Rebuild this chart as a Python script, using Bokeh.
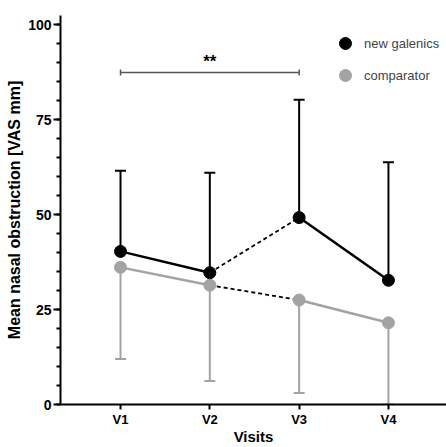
from bokeh.plotting import figure
from bokeh.models import (Range1d, FixedTicker, Legend, LegendItem)
from bokeh.core.properties import value
from bokeh.embed import file_html
from bokeh.resources import INLINE

visits = ["V1", "V2", "V3", "V4"]
new_mean = [40.3, 34.7, 49.2, 32.7]
new_upper = [61.5, 61.0, 80.2, 63.8]
comp_mean = [36.1, 31.4, 27.5, 21.5]
comp_lower = [12.0, 6.2, 3.0, 0.0]
sig_from, sig_to, sig_y, sig_text = "V1", "V3", 87.4, "**"
yticks = [0, 25, 50, 75, 100]

FONT = "Liberation Sans"
BLACK = "#000000"
GRAY = "#a3a3a3"

x = [i + 1 for i in range(len(visits))]

p = figure(width=446, height=447, output_backend="svg", toolbar_location=None,
           x_range=Range1d(0.328, 4.65), y_range=Range1d(0, 102.4),
           min_border_left=60, min_border_right=0, min_border_top=15, min_border_bottom=43)
p.outline_line_color = None
p.xgrid.visible = False
p.ygrid.visible = False
p.background_fill_color = "white"

# axes
p.xaxis.ticker = FixedTicker(ticks=x, minor_ticks=[])
p.xaxis.major_label_overrides = {xi: v for xi, v in zip(x, visits)}
p.yaxis.ticker = FixedTicker(ticks=yticks, minor_ticks=list(range(0, 101, 5)))
for ax in (p.xaxis[0], p.yaxis[0]):
    ax.axis_line_width = 2
    ax.axis_line_color = BLACK
    ax.major_tick_line_width = 2
    ax.major_tick_line_color = BLACK
    ax.major_tick_in = 0
    ax.major_label_text_font = FONT
    ax.major_label_text_font_style = "bold"
    ax.major_label_text_font_size = "14px"
    ax.major_label_text_color = BLACK
    ax.axis_label_text_font = FONT
    ax.axis_label_text_font_style = "bold"
    ax.axis_label_text_font_size = "16px"
    ax.axis_label_text_color = BLACK
p.xaxis.major_tick_out = 5
p.xaxis.major_label_standoff = 2
p.xaxis.major_label_text_font_size = "13px"
p.xaxis.axis_label = "Visits"
p.xaxis.axis_label_standoff = -2
p.xaxis.axis_label_text_font_size = "15px"
p.yaxis.major_tick_out = 7
p.yaxis.minor_tick_out = 4
p.yaxis.minor_tick_in = 0
p.yaxis.minor_tick_line_width = 2
p.yaxis.minor_tick_line_color = BLACK
p.yaxis.major_label_standoff = 2
p.yaxis.axis_label = "Mean nasal obstruction [VAS mm]"
p.yaxis.axis_label_standoff = 2

# error bars
p.segment(x0=x, y0=comp_mean, x1=x, y1=comp_lower, line_color=GRAY, line_width=2)
p.scatter(x=x, y=comp_lower, marker="dash", size=11, line_color=GRAY, line_width=2)
p.segment(x0=x, y0=new_mean, x1=x, y1=new_upper, line_color=BLACK, line_width=2)
p.scatter(x=x, y=new_upper, marker="dash", size=11, line_color=BLACK, line_width=2)

# connecting lines
for mean, col in ((comp_mean, GRAY), (new_mean, BLACK)):
    p.line(x[0:2], mean[0:2], line_color=col, line_width=2.5)
    p.line(x[2:4], mean[2:4], line_color=col, line_width=2.5)
    p.line(x[1:3], mean[1:3], line_color=BLACK, line_width=1.8, line_dash="4 3")

r_comp = p.scatter(x=x, y=comp_mean, size=12, fill_color=GRAY, line_color=GRAY)
r_new = p.scatter(x=x, y=new_mean, size=12, fill_color=BLACK, line_color=BLACK)

# significance bracket
xa = x[visits.index(sig_from)]
xb = x[visits.index(sig_to)]
p.segment(x0=[xa], y0=[sig_y], x1=[xb], y1=[sig_y], line_color="#555555", line_width=1.5)
p.scatter(x=[xa, xb], y=[sig_y, sig_y], marker="dash", angle=1.5708, size=6,
          line_color="#555555", line_width=1.5)
p.text(x=[(xa + xb) / 2], y=[sig_y + 2.9], text=[sig_text], text_font=value(FONT),
       text_font_style="bold", text_font_size="17px", text_align="center",
       text_baseline="middle", text_color=BLACK)

legend = Legend(items=[LegendItem(label="new galenics", renderers=[r_new]),
                       LegendItem(label="comparator", renderers=[r_comp])],
                location=(270, 314), glyph_width=30, glyph_height=30, spacing=2,
                label_standoff=4, padding=0, border_line_color=None,
                background_fill_alpha=0, label_text_font=FONT,
                label_text_font_size="13px", label_height=14, margin=0)
p.add_layout(legend, "center")

open("out.html", "w").write(file_html(p, INLINE))
